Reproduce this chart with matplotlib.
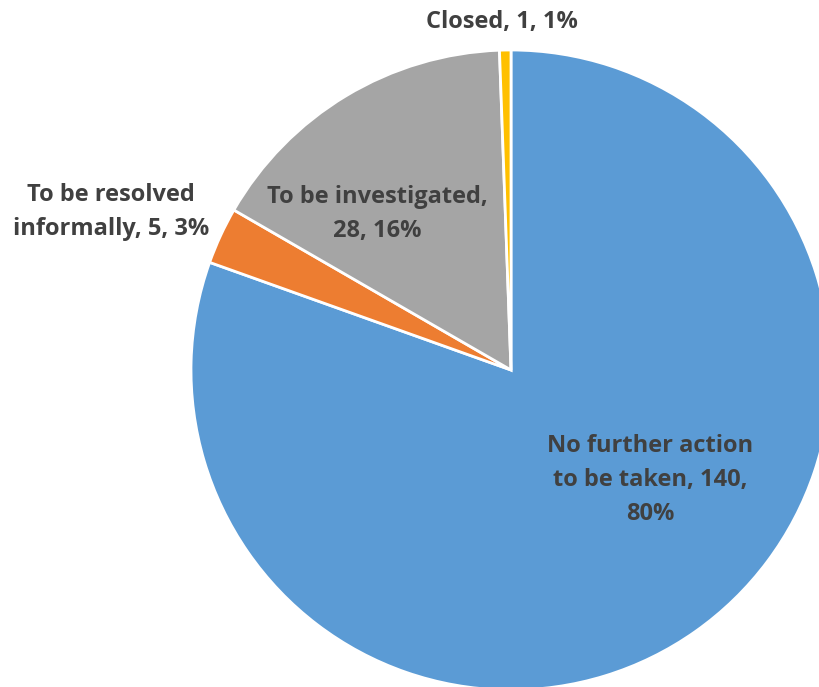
import matplotlib
matplotlib.use("Agg")
import matplotlib.pyplot as plt

categories = ["No further action\nto be taken", "To be resolved\ninformally",
              "To be investigated", "Closed"]
counts = [140, 5, 28, 1]
colors = ["#5B9BD5", "#ED7D31", "#A5A5A5", "#FFC000"]

# where each data label sits, in units of the radius, relative to the pie centre
label_offsets = [(0.434, -0.344), (-1.25, 0.494), (-0.419, 0.487), (-0.028, 1.087)]
# Excel wraps the labels at different points, so keep the break pattern per label
label_formats = [
    "{cat}, {n},\n{p}%",
    "{cat}, {n}, {p}%",
    "{cat},\n{n}, {p}%",
    "{cat}, {n}, {p}%",
]

fig = plt.figure(figsize=(8.2, 6.87), dpi=100)
ax = fig.add_axes([0, 0, 1, 1])

cx, cy, r = 511, 317, 320
ax.pie(counts, colors=colors, startangle=90, counterclock=False,
       center=(cx, cy), radius=r,
       wedgeprops=dict(edgecolor="white", linewidth=2))

total = sum(counts)
for cat, fmt, n, (dx, dy) in zip(categories, label_formats, counts, label_offsets):
    pct = round(100 * n / total)
    ax.text(cx + dx * r, cy + dy * r, fmt.format(cat=cat, n=n, p=pct),
            ha="center", va="center", fontsize=17, fontweight="bold",
            family="Open Sans", color="#404040", linespacing=1.55)

ax.set_xlim(0, 820)
ax.set_ylim(0, 687)
ax.set_aspect("auto")
ax.axis("off")

fig.savefig("out.png", dpi=100)
